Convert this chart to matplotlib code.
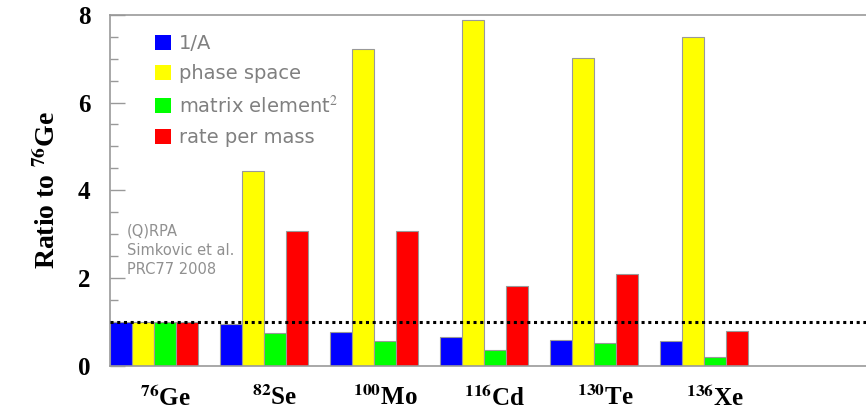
import numpy as np
import matplotlib
matplotlib.use("Agg")
import matplotlib.pyplot as plt
from matplotlib.patches import Patch
from matplotlib.ticker import MultipleLocator

plt.rcParams['mathtext.fontset'] = 'stix'

# 同位素与四组比值（相对 76Ge）
isotopes = ["76", "82", "100", "116", "130", "136"]
elements = ["Ge", "Se", "Mo", "Cd", "Te", "Xe"]
inv_a = [1.0, 0.95, 0.78, 0.67, 0.59, 0.57]
phase_space = [1.0, 4.44, 7.23, 7.87, 7.02, 7.49]
matrix_el = [1.0, 0.76, 0.57, 0.36, 0.52, 0.20]
rate_mass = [1.0, 3.07, 3.07, 1.82, 2.09, 0.79]

series = [inv_a, phase_space, matrix_el, rate_mass]
names = ["1/A", "phase space", "matrix element$^2$", "rate per mass"]
colors = ["#0000ff", "#ffff00", "#00ff00", "#ff0000"]

fig = plt.figure(figsize=(8.66, 4.12), dpi=100)
ax = fig.add_axes([0.127, 0.1117, 0.873, 0.8526])

# 每组 4 根柱 + 1 个空位
idx = np.arange(len(elements)) * 5
for k, vals in enumerate(series):
    ax.bar(idx + k + 0.5, vals, width=1.0, color=colors[k],
           edgecolor="#999999", linewidth=0.8, zorder=2)

ax.axhline(1.0, color="black", linestyle=(0, (1, 1.2)), linewidth=2.2, zorder=3)

ax.set_xlim(0, 34.36)
ax.set_ylim(0, 8)

ax.set_yticks([0, 2, 4, 6, 8])
ax.yaxis.set_minor_locator(MultipleLocator(0.5))
ax.tick_params(axis='y', which='major', direction='in', length=11, color="#999999", width=1,
               pad=14, labelsize=18)
ax.tick_params(axis='y', which='minor', direction='in', length=5.5, color="#999999", width=1)
for lab in ax.get_yticklabels():
    lab.set_family("Liberation Serif")
    lab.set_fontweight("bold")

ax.set_xticks(idx + 2.5)
ax.set_xticklabels([r"$^{\mathbf{%s}}$%s" % (a, e) for a, e in zip(isotopes, elements)],
                   family="Liberation Serif", fontweight="bold", fontsize=18)
ax.tick_params(axis='x', length=0, pad=14)

for s in ["left", "top", "bottom"]:
    ax.spines[s].set_color("#999999")
    ax.spines[s].set_linewidth(1.2)
ax.spines["right"].set_visible(False)

ax.set_ylabel(r"Ratio to $^{\mathbf{76}}$Ge", family="Liberation Serif",
              fontweight="bold", fontsize=20, labelpad=12)

handles = [Patch(facecolor=c, edgecolor="none") for c in colors]
leg = ax.legend(handles, names, loc="upper left", bbox_to_anchor=(0.037, 0.995),
                frameon=False, fontsize=14, handlelength=0.8, handleheight=0.8,
                handletextpad=0.4, labelspacing=0.58)
for t in leg.get_texts():
    t.set_color("#808080")
    t.set_family("DejaVu Sans")

ax.text(0.022, 0.405, "(Q)RPA\nSimkovic et al.\nPRC77 2008", transform=ax.transAxes,
        color="#909090", fontsize=10.5, family="DejaVu Sans", linespacing=1.35, va="top")

fig.savefig("out.png", dpi=100)
